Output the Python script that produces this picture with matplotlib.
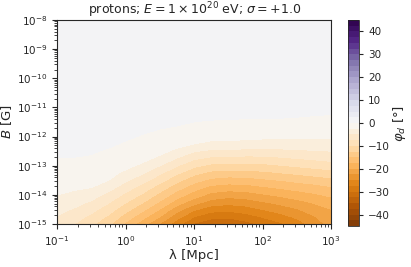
import numpy as np
import matplotlib
matplotlib.use("Agg")
import matplotlib.pyplot as plt
from matplotlib.ticker import FixedLocator, FuncFormatter, NullFormatter

# grid: phi_d [deg] on (log10 B, log10 lambda)
log_lambda = [-1, -0.75, -0.5, -0.25, 0, 0.25, 0.5, 0.75, 1, 1.25, 1.5, 1.75, 2, 2.25, 2.5, 2.75, 3]
log_B = [-15, -14.75, -14.5, -14.25, -14, -13.75, -13.5, -13.25, -13, -12.75,
         -12.5, -12.25, -12, -11.75, -11.5, -11.25, -11, -10, -9, -8]
phi_rows = [
    [-6.0, -7.5, -9.5, -12.0, -15.5, -19.0, -22.8, -26.5, -30.3, -31.8, -32.2, -31.0, -29.5, -28.0, -26.3, -24.0, -21.5],
    [-5.1, -6.37, -8.1, -10.4, -13.5, -16.6, -20.0, -24.0, -27.5, -29.2, -29.5, -28.6, -27.3, -26.0, -24.5, -22.7, -20.8],
    [-4.25, -5.23, -6.7, -8.83, -11.6, -14.4, -17.6, -21.5, -24.6, -26.5, -26.8, -26.2, -25.0, -23.9, -22.7, -21.3, -20.0],
    [-3.4, -4.1, -5.3, -7.25, -9.8, -12.3, -15.3, -18.6, -21.4, -23.5, -24.1, -23.7, -22.7, -21.8, -20.8, -19.7, -18.7],
    [-2.5, -2.95, -3.9, -5.67, -8.05, -10.4, -13.24, -16.2, -18.7, -20.8, -21.5, -21.2, -20.35, -19.5, -18.7, -17.9, -17.0],
    [-2.0, -2.2, -2.5, -4.08, -6.3, -8.55, -11.2, -13.97, -16.4, -18.3, -18.8, -18.6, -17.9, -17.25, -16.6, -16.0, -15.3],
    [-1.5, -1.67, -1.96, -2.5, -4.6, -6.66, -9.1, -11.76, -14.1, -15.7, -16.2, -16.1, -15.5, -15.0, -14.4, -13.9, -13.3],
    [-1.0, -1.15, -1.41, -1.96, -2.85, -4.77, -7.04, -9.56, -11.8, -13.2, -13.6, -13.5, -13.1, -12.6, -12.05, -11.5, -11.0],
    [-0.5, -0.63, -0.87, -1.41, -2.05, -2.88, -5.0, -7.35, -9.45, -10.65, -10.9, -10.9, -10.7, -10.2, -9.7, -9.2, -8.7],
    [-0.05, -0.1, -0.33, -0.87, -1.48, -2.0, -2.9, -5.15, -7.14, -8.1, -8.3, -8.36, -8.3, -7.9, -7.5, -7.1, -6.7],
    [0.5, 0.5, 0.3, -0.33, -0.9, -1.43, -1.97, -2.94, -4.82, -5.55, -5.66, -5.8, -5.9, -5.7, -5.45, -5.2, -5.0],
    [0.5, 0.5, 0.5, 0.5, -0.34, -0.83, -1.32, -1.9, -2.5, -3.0, -3.03, -3.22, -3.47, -3.45, -3.43, -3.4, -3.4],
    [0.5, 0.5, 0.5, 0.5, 0.5, -0.24, -0.66, -1.18, -1.67, -1.83, -1.88, -1.94, -2.03, -2.07, -2.1, -2.15, -2.2],
    [0.5, 0.5, 0.5, 0.5, 0.5, 0.5, -0.02, -0.44, -0.83, -1.0, -1.09, -1.16, -1.25, -1.3, -1.36, -1.42, -1.47],
    [0.5, 0.5, 0.5, 0.5, 0.5, 0.5, 0.5, 0.5, -0.02, -0.17, -0.31, -0.38, -0.47, -0.53, -0.6, -0.67, -0.74],
    [0.5, 0.5, 0.5, 0.5, 0.5, 0.5, 0.5, 0.5, 0.5, 0.5, 0.5, 0.5, 0.5, 0.5, 0.3, 0.1, -0.02],
    [0.5] * 17,
    [0.5] * 17,
    [0.5] * 17,
    [0.5] * 17,
]
levels = np.arange(-45, 45.01, 2.5)
cbar_ticks = [-40, -30, -20, -10, 0, 10, 20, 30, 40]
x_decades = [-1, 0, 1, 2, 3]
y_decades = [-15, -14, -13, -12, -11, -10, -9, -8]

Z = np.array(phi_rows)

plt.rcParams.update({
    "font.size": 8,
    "axes.edgecolor": "#262626",
    "xtick.color": "#262626",
    "ytick.color": "#262626",
    "text.color": "#262626",
    "axes.labelcolor": "#262626",
})

fig = plt.figure(figsize=(4.11, 2.67), dpi=100)
ax = fig.add_axes([0.1387, 0.161, 0.667, 0.764])
cax = fig.add_axes([0.8467, 0.1536, 0.0268, 0.7715])

cf = ax.contourf(log_lambda, log_B, Z, levels=levels, cmap="PuOr", vmin=-45, vmax=45)
ax.set_xlim(-1, 3)
ax.set_ylim(-15, -8)

def minor_positions(decades):
    out = []
    for d in decades[:-1]:
        for k in range(2, 10):
            out.append(d + np.log10(k))
    return out

pow_fmt = FuncFormatter(lambda v, p: r"$10^{%d}$" % round(v))
ax.xaxis.set_major_locator(FixedLocator(x_decades))
ax.yaxis.set_major_locator(FixedLocator(y_decades))
ax.xaxis.set_major_formatter(pow_fmt)
ax.yaxis.set_major_formatter(pow_fmt)
ax.xaxis.set_minor_locator(FixedLocator(minor_positions(x_decades)))
ax.yaxis.set_minor_locator(FixedLocator(minor_positions(y_decades)))
ax.xaxis.set_minor_formatter(NullFormatter())
ax.yaxis.set_minor_formatter(NullFormatter())
ax.tick_params(which="major", length=3.5, width=0.8, labelsize=7.5)
ax.tick_params(which="minor", length=2, width=0.6)
for s in ax.spines.values():
    s.set_linewidth(0.8)

ax.set_xlabel("λ [Mpc]", fontsize=9.5, labelpad=1)
ax.set_ylabel("$B$ [G]", fontsize=9.5, labelpad=2)
ax.set_title(r"protons; $E = 1\times10^{20}$ eV; $\sigma = +1.0$", fontsize=9, pad=3)

cb = fig.colorbar(cf, cax=cax, ticks=cbar_ticks)
cb.ax.tick_params(labelsize=7.5, length=3, width=0.8)
cb.outline.set_linewidth(0.6)
cb.set_label(r"$\varphi_d$ [°]", fontsize=9.5, labelpad=1)

fig.savefig("out.png", dpi=100)
